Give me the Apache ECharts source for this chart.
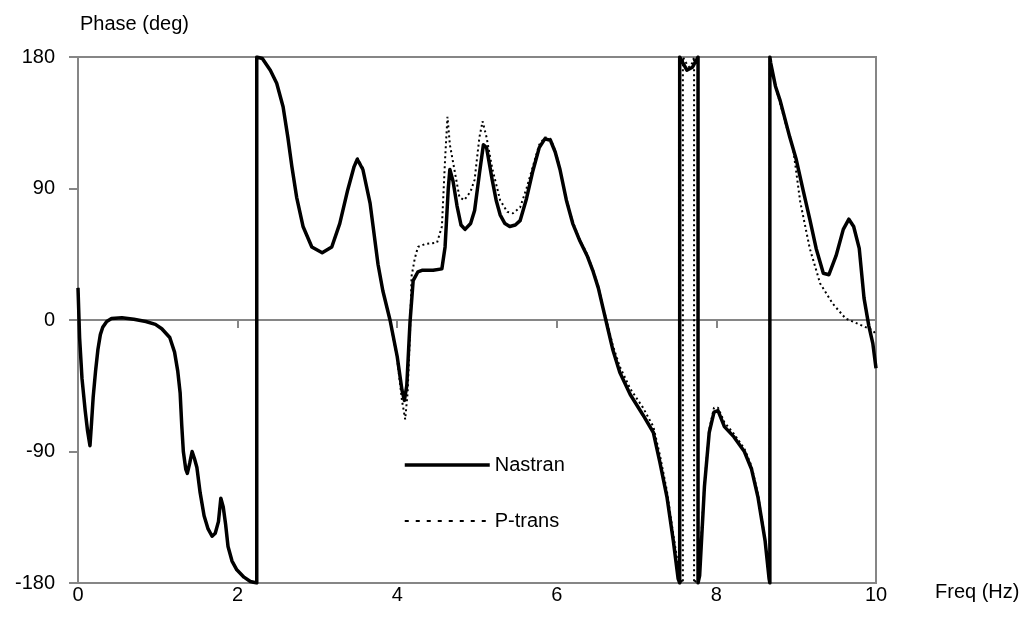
<!DOCTYPE html>
<html>
<head>
<meta charset="utf-8">
<script src="https://cdn.jsdelivr.net/npm/echarts@6/dist/echarts.min.js"></script>
<style>
  html, body { margin: 0; padding: 0; background: #fff; }
  #phaseChart { width: 1031px; height: 637px; }
</style>
</head>
<body>
<div id="phaseChart"></div>
<script>
// axis ticks
var xTicks = [0, 2, 4, 6, 8, 10];
var yTicks = [-180, -90, 0, 90, 180];
var seriesNames = ["Nastran", "P-trans"];

// Nastran phase [freq Hz, deg]
var nastran = [
  [0, 22], [0.02, -12], [0.05, -40], [0.09, -62], [0.12, -76], [0.15, -86], [0.17, -70],
  [0.19, -53], [0.22, -35], [0.25, -20], [0.28, -10], [0.31, -5], [0.36, -1], [0.42, 1],
  [0.55, 1.5], [0.7, 0.5], [0.85, -1], [0.97, -3], [1.05, -6], [1.15, -12], [1.21, -22],
  [1.25, -35], [1.28, -50], [1.30, -72], [1.32, -90], [1.35, -102], [1.37, -105], [1.40, -98],
  [1.43, -90], [1.46, -95], [1.49, -101], [1.53, -118], [1.58, -134], [1.63, -143], [1.68, -148],
  [1.72, -146], [1.76, -138], [1.79, -122], [1.82, -128], [1.85, -140], [1.88, -155], [1.93, -165],
  [1.99, -171], [2.08, -176], [2.16, -179], [2.24, -180], [2.24, 180],
  [2.31, 179], [2.41, 171], [2.49, 162], [2.57, 146], [2.63, 125], [2.68, 105], [2.74, 84],
  [2.82, 64], [2.93, 50], [3.06, 46], [3.18, 50], [3.28, 66], [3.38, 89], [3.46, 105], [3.50, 110],
  [3.57, 103], [3.66, 80], [3.76, 38], [3.82, 20], [3.91, 0], [4.00, -25], [4.06, -48], [4.09, -55],
  [4.12, -45], [4.16, -2], [4.20, 27], [4.26, 33], [4.31, 34], [4.45, 34], [4.56, 35], [4.60, 50],
  [4.64, 90], [4.66, 103], [4.70, 95], [4.75, 78], [4.80, 65], [4.85, 62], [4.92, 66], [4.97, 75],
  [5.03, 100], [5.08, 120], [5.12, 118], [5.19, 96], [5.24, 82], [5.29, 72], [5.35, 66], [5.41, 64],
  [5.48, 65], [5.54, 68], [5.62, 83], [5.70, 102], [5.78, 118], [5.85, 124], [5.92, 123], [5.98, 115],
  [6.04, 103], [6.12, 82], [6.20, 66], [6.29, 54], [6.38, 44], [6.45, 34], [6.52, 22], [6.58, 8],
  [6.64, -6], [6.70, -20], [6.79, -36], [6.92, -51], [7.08, -65], [7.21, -77], [7.29, -97],
  [7.38, -121], [7.46, -151], [7.52, -177], [7.54, -180], [7.54, 180], [7.58, 176], [7.63, 171],
  [7.70, 173], [7.77, 180], [7.77, -180], [7.79, -175], [7.85, -114], [7.91, -77], [7.97, -63],
  [8.02, -62], [8.10, -73], [8.22, -80], [8.35, -90], [8.44, -102], [8.52, -121], [8.61, -151],
  [8.66, -177], [8.67, -180], [8.67, 180], [8.68, 176], [8.74, 160], [8.80, 150], [8.92, 125],
  [9.00, 110], [9.09, 88], [9.17, 69], [9.25, 49], [9.34, 32], [9.41, 31], [9.50, 44], [9.59, 62],
  [9.66, 69], [9.72, 64], [9.79, 49], [9.85, 15], [9.91, -4], [9.96, -16], [10, -33]
];

// P-trans phase [freq Hz, deg]
var ptrans = [
  [0, 22], [0.02, -12], [0.05, -40], [0.09, -62], [0.12, -76], [0.15, -86], [0.17, -70],
  [0.19, -53], [0.22, -35], [0.25, -20], [0.28, -10], [0.31, -5], [0.36, -1], [0.42, 1],
  [0.55, 1.5], [0.7, 0.5], [0.85, -1], [0.97, -3], [1.05, -6], [1.15, -12], [1.21, -22],
  [1.25, -35], [1.28, -50], [1.30, -72], [1.32, -90], [1.35, -102], [1.37, -105], [1.40, -98],
  [1.43, -90], [1.46, -95], [1.49, -101], [1.53, -118], [1.58, -134], [1.63, -143], [1.68, -148],
  [1.72, -146], [1.76, -138], [1.79, -122], [1.82, -128], [1.85, -140], [1.88, -155], [1.93, -165],
  [1.99, -171], [2.08, -176], [2.16, -179], [2.24, -180], [2.24, 180],
  [2.31, 179], [2.41, 171], [2.49, 162], [2.57, 146], [2.63, 125], [2.68, 105], [2.74, 84],
  [2.82, 64], [2.93, 50], [3.06, 46], [3.18, 50], [3.28, 66], [3.38, 89], [3.46, 105], [3.50, 111],
  [3.57, 104], [3.66, 80], [3.76, 38], [3.82, 20], [3.91, 0], [4.00, -27], [4.06, -55], [4.10, -68],
  [4.13, -50], [4.16, -10], [4.18, 30], [4.22, 42], [4.26, 50], [4.35, 52], [4.50, 53], [4.56, 64],
  [4.60, 110], [4.63, 139], [4.66, 120], [4.72, 102], [4.78, 84], [4.84, 82], [4.92, 88], [4.97, 96],
  [5.03, 125], [5.07, 136], [5.12, 125], [5.19, 104], [5.29, 82], [5.38, 74], [5.45, 73], [5.54, 77],
  [5.62, 90], [5.70, 105], [5.78, 120], [5.85, 125], [5.92, 124], [5.98, 116], [6.04, 104],
  [6.12, 83], [6.20, 67], [6.29, 55], [6.38, 45], [6.45, 35], [6.52, 23], [6.58, 9], [6.64, -4],
  [6.70, -17], [6.79, -32], [6.92, -47], [7.08, -60], [7.21, -73], [7.29, -92], [7.38, -117],
  [7.46, -147], [7.55, -178], [7.58, -180], [7.58, 180], [7.62, 176], [7.66, 173], [7.70, 176],
  [7.72, 180], [7.72, -180], [7.78, -176], [7.85, -112], [7.91, -75], [7.97, -60], [8.02, -60],
  [8.10, -70], [8.22, -78], [8.35, -88], [8.44, -100], [8.52, -119], [8.61, -150], [8.66, -177],
  [8.67, -180], [8.67, 180], [8.68, 176], [8.74, 160], [8.80, 148], [8.88, 132], [8.96, 118],
  [9.05, 81], [9.17, 49], [9.30, 25], [9.46, 11], [9.62, 1], [9.79, -3], [9.96, -7], [10, -10]
];

var fontName = "Liberation Sans, Arial, sans-serif";
var gray = "#868686";

var myChart = echarts.init(document.getElementById("phaseChart"));
var option = {
  animation: false,
  backgroundColor: "#fff",
  grid: {
    left: 78, right: 155, top: 57, bottom: 54,
    show: true, borderColor: gray, borderWidth: 2, backgroundColor: "transparent"
  },
  legend: {
    data: [
      { name: seriesNames[0], lineStyle: { width: 3.5, type: "solid" } },
      { name: seriesNames[1], lineStyle: { width: 2, type: [4, 7] } }
    ],
    orient: "vertical",
    left: 403,
    top: 455,
    padding: 0,
    itemWidth: 85,
    itemHeight: 14,
    itemGap: 36,
    itemStyle: { opacity: 0 },
    textStyle: { fontFamily: fontName, fontSize: 20, color: "#000" }
  },
  graphic: [
    {
      type: "text", left: 80, top: 14,
      style: { text: "Phase (deg)", font: "20px " + fontName, fill: "#000" }
    },
    {
      type: "text", left: 935, top: 582,
      style: { text: "Freq (Hz)", font: "20px " + fontName, fill: "#000" }
    }
  ],
  xAxis: [
    {
      // bottom labels only
      type: "value", position: "bottom", min: 0, max: 10, interval: 2,
      axisLine: { show: false, onZero: false },
      axisTick: { show: false },
      splitLine: { show: false },
      axisLabel: {
        margin: 2, fontFamily: fontName, fontSize: 20, color: "#000",
        customValues: xTicks
      }
    },
    {
      // zero line with ticks hanging down
      type: "value", position: "top", min: 0, max: 10, interval: 2,
      axisLine: { show: true, onZero: true, lineStyle: { color: gray, width: 2 } },
      axisTick: { show: true, inside: true, length: 8, lineStyle: { color: gray, width: 2 } },
      axisLabel: { show: false },
      splitLine: { show: false }
    }
  ],
  yAxis: {
    type: "value", min: -180, max: 180, interval: 90,
    axisLine: { show: true, lineStyle: { color: gray, width: 2 } },
    axisTick: { show: true, length: 9, lineStyle: { color: gray, width: 2 } },
    splitLine: { show: false },
    axisLabel: { margin: 23, fontFamily: fontName, fontSize: 20, color: "#000", customValues: yTicks }
  },
  series: [
    {
      name: seriesNames[0], type: "line", xAxisIndex: 0, data: nastran,
      symbol: "none", showSymbol: false, z: 3,
      lineStyle: { color: "#000", width: 3.5, join: "round" },
      itemStyle: { color: "#000" }
    },
    {
      name: seriesNames[1], type: "line", xAxisIndex: 0, data: ptrans,
      symbol: "none", showSymbol: false, z: 2,
      lineStyle: { color: "#000", width: 2, type: [2, 3] },
      itemStyle: { color: "#000" }
    }
  ]
};
myChart.setOption(option, true);
</script>
</body>
</html>
